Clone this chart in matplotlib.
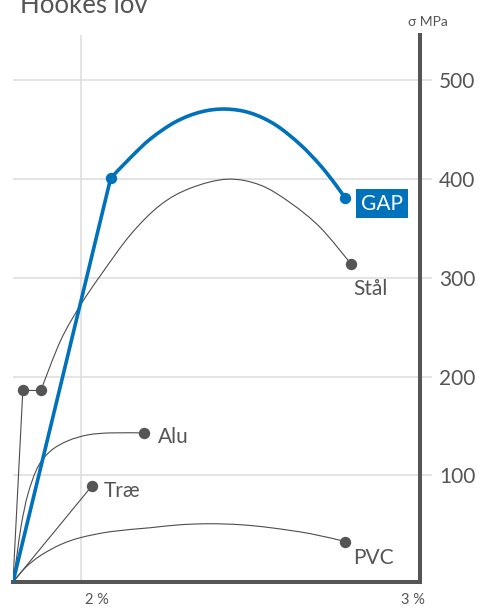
import matplotlib
matplotlib.use("Agg")
import matplotlib.pyplot as plt
from matplotlib.transforms import ScaledTranslation
from matplotlib.path import Path
from matplotlib.patches import PathPatch

plt.rcParams['font.family'] = ['Lato', 'DejaVu Sans']

# ---- data (strain in %, stress in MPa) ----
gap_x = [1.80, 2.088, 2.147, 2.206, 2.279, 2.353, 2.426, 2.500, 2.574, 2.647, 2.706, 2.750, 2.779]
gap_y = [-8, 401, 422, 441, 458, 468, 471, 467, 455, 435, 414, 395, 381]

staal_x = [1.80, 1.829, 1.882, 1.941, 2.0, 2.059, 2.147, 2.235, 2.324, 2.432, 2.529, 2.618, 2.706, 2.797]
staal_y = [-8, 186, 186, 237, 273, 303, 344, 374, 391, 400, 394, 376, 351, 314]

alu_x = [1.80, 1.812, 1.824, 1.844, 1.874, 1.912, 1.962, 2.021, 2.088, 2.185]
alu_y = [-8, 20, 49, 81, 109, 125, 135, 141, 143, 143]

trae_x = [1.80, 2.032]
trae_y = [-8, 89]

pvc_x = [1.80, 1.838, 1.882, 1.941, 2.0, 2.088, 2.206, 2.294, 2.382, 2.471, 2.559, 2.676, 2.779]
pvc_y = [-8, 7, 19, 30, 37, 43, 47, 50, 51, 50, 47, 41, 33]

y_ticks = [100, 200, 300, 400, 500]
x_ticks = [2, 3]
x_tick_labels = ['2 %', '3 %']

TXT = '#555555'
DARK = '#4d4d4d'
BLUE = '#0072BB'
GRID = '#dddddd'

fig = plt.figure(figsize=(4.82, 6.12), dpi=100)
ax = fig.add_axes([13/482, 30/612, 407/482, 547/612])
ax.set_xlim(1.8, 3.0)
ax.set_ylim(-8, 546)

ax.set_yticks(y_ticks)
ax.set_xticks(x_ticks)
ax.set_xticklabels(x_tick_labels)
ax.grid(True, color=GRID, lw=1.1, zorder=0)
ax.set_axisbelow(True)

ax.yaxis.tick_right()
ax.tick_params(axis='y', length=8.6, width=1.1, color=GRID, pad=5,
               labelsize=15, labelcolor=TXT)
ax.tick_params(axis='x', length=0, pad=8, labelsize=10.5, labelcolor=TXT)
for lab_, dx in zip(ax.get_xticklabels(), [16, -7.5]):
    lab_.set_transform(lab_.get_transform() + ScaledTranslation(dx/100, 0, fig.dpi_scale_trans))

for s in ['left', 'top']:
    ax.spines[s].set_visible(False)
for s in ['right', 'bottom']:
    ax.spines[s].set_color('#555555')
    ax.spines[s].set_linewidth(2.9)
    ax.spines[s].set_capstyle('projecting')


def smooth_path(xs, ys, straight=()):
    """Bezier path through the read points (Catmull-Rom tangents).
    Segments whose start index is in `straight` are drawn as straight lines."""
    pts = list(zip(xs, ys))
    verts = [pts[0]]
    codes = [Path.MOVETO]
    n = len(pts)
    for i in range(n - 1):
        p1, p2 = pts[i], pts[i + 1]
        if i in straight:
            verts.append(p2)
            codes.append(Path.LINETO)
            continue
        p0 = pts[i - 1] if (i > 0 and (i - 1) not in straight) else p1
        p3 = pts[i + 2] if (i + 2 < n and (i + 1) not in straight) else p2
        c1 = (p1[0] + (p2[0] - p0[0]) / 6, p1[1] + (p2[1] - p0[1]) / 6)
        c2 = (p2[0] - (p3[0] - p1[0]) / 6, p2[1] - (p3[1] - p1[1]) / 6)
        verts += [c1, c2, p2]
        codes += [Path.CURVE4] * 3
    return Path(verts, codes)


def draw(xs, ys, color, lw, marks, straight=(), z=3):
    ax.add_patch(PathPatch(smooth_path(xs, ys, straight), fc='none', ec=color, lw=lw,
                           zorder=z, capstyle='round', joinstyle='round'))
    ax.plot([xs[i] for i in marks], [ys[i] for i in marks], linestyle='none', marker='o',
            ms=8.2, mfc=color if color == BLUE else '#555555', mec='none', zorder=z + 0.5)


draw(staal_x, staal_y, DARK, 0.8, [1, 2, len(staal_x) - 1], straight=(0, 1))
draw(alu_x, alu_y, DARK, 0.8, [len(alu_x) - 1])
draw(trae_x, trae_y, DARK, 0.8, [len(trae_x) - 1], straight=(0,))
draw(pvc_x, pvc_y, DARK, 0.8, [len(pvc_x) - 1])
draw(gap_x, gap_y, BLUE, 2.6, [1, len(gap_x) - 1], straight=(0,), z=5)


def lab(text, x, y, dx, dy):
    ax.annotate(text, (x, y), xytext=(dx, dy), textcoords='offset pixels',
                ha='left', va='center', fontsize=15, color=TXT)

lab('Stål', staal_x[-1], staal_y[-1], 2, -25)
lab('Alu', alu_x[-1], alu_y[-1], 14, -4)
lab('Træ', trae_x[-1], trae_y[-1], 12, -5)
lab('PVC', pvc_x[-1], pvc_y[-1], 8, -16)
ax.annotate('GAP', (gap_x[-1], gap_y[-1]), xytext=(16, -6), textcoords='offset pixels',
            ha='left', va='center', fontsize=15, color='white',
            bbox=dict(boxstyle='square,pad=0.22', fc=BLUE, ec='none'))

fig.text(20/482, 599/612, 'Hookes lov', fontsize=18.5, color=TXT, ha='left', va='baseline')
fig.text(408/482, 1 - 22.5/612, 'σ MPa', fontsize=10, color=TXT, ha='left', va='center')

fig.savefig('out.png', dpi=100)
